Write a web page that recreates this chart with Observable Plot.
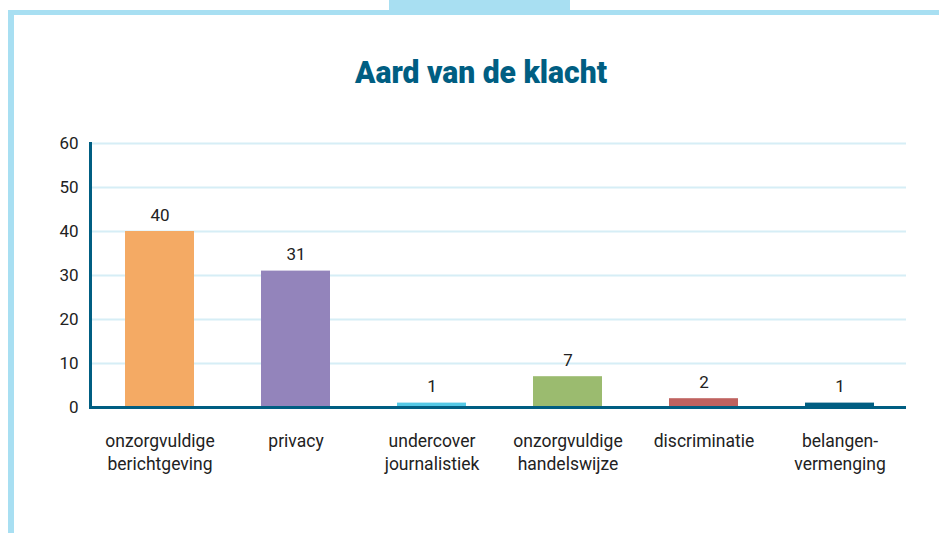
<!DOCTYPE html>
<html><head><meta charset="utf-8">
<script src="https://cdn.jsdelivr.net/npm/d3@7"></script>
<script src="https://cdn.jsdelivr.net/npm/@observablehq/plot@0.6"></script>
<style>
body{margin:0;background:#fff;}
#wrap{position:relative;width:939px;height:533px;overflow:hidden;background:#fff;font-family:Roboto,sans-serif;}
.b{position:absolute;background:#a8dff2;}
#title{position:absolute;left:0;top:0;}
#chart{position:absolute;left:0;top:110px;}
</style></head>
<body>
<div id="wrap">
  <div class="b" style="left:389px;top:0;width:181px;height:12px;"></div>
  <div class="b" style="left:8px;top:10px;width:931px;height:5px;"></div>
  <div class="b" style="left:8px;top:10px;width:6px;height:523px;"></div>
  <svg id="title" width="939" height="100"><text x="355" y="83" textLength="252" lengthAdjust="spacingAndGlyphs" style="font-family:Roboto,sans-serif;font-weight:900;font-size:31px;fill:#005e82;">Aard van de klacht</text></svg>
  <div id="chart"></div>
</div>
<script>
const categories = ["onzorgvuldige berichtgeving","privacy","undercover journalistiek","onzorgvuldige handelswijze","discriminatie","belangenvermenging"];
const tickLabels = ["onzorgvuldige\nberichtgeving","privacy","undercover\njournalistiek","onzorgvuldige\nhandelswijze","discriminatie","belangen-\nvermenging"];
const values = [40, 31, 1, 7, 2, 1];
const colors = ["#f4aa64","#9384bb","#55c9e6","#9bbb6f","#bf625f","#005e82"];
const yTicks = [0, 10, 20, 30, 40, 50, 60];

const data = categories.map((c, i) => ({category: c, value: values[i], color: colors[i]}));
const labelOf = new Map(categories.map((c, i) => [c, tickLabels[i]]));

const chart = Plot.plot({
  width: 939,
  height: 400,
  marginTop: 33,
  marginBottom: 103,
  marginLeft: 90,
  marginRight: 33,
  style: {fontFamily: "Roboto,sans-serif", fontSize: "17px", color: "#222", background: "transparent"},
  x: {domain: categories, paddingInner: 0.49, paddingOuter: 0.245, align: 0.525},
  y: {domain: [0, 60]},
  marks: [
    Plot.gridY(yTicks, {stroke: "#d6eef6", strokeOpacity: 1, strokeWidth: 2}),
    Plot.barY(data, {x: "category", y: "value", fill: "color"}),
    Plot.text(data, {x: "category", y: "value", text: d => String(d.value), lineAnchor: "bottom", dy: -11, fontSize: 17, fill: "#222"}),
    Plot.axisY(yTicks, {tickSize: 0, tickPadding: 12, label: null, fontSize: 17, fill: "#222"}),
    Plot.axisX({tickSize: 0, tickPadding: 22, label: null, fontSize: 17.5, lineHeight: 1.37, fill: "#222", tickFormat: d => labelOf.get(d)}),
    Plot.ruleY([0], {stroke: "#005e82", strokeWidth: 3}),
    Plot.frame({anchor: "left", stroke: "#005e82", strokeWidth: 3})
  ]
});
document.getElementById("chart").appendChild(chart);
</script>
</body></html>
